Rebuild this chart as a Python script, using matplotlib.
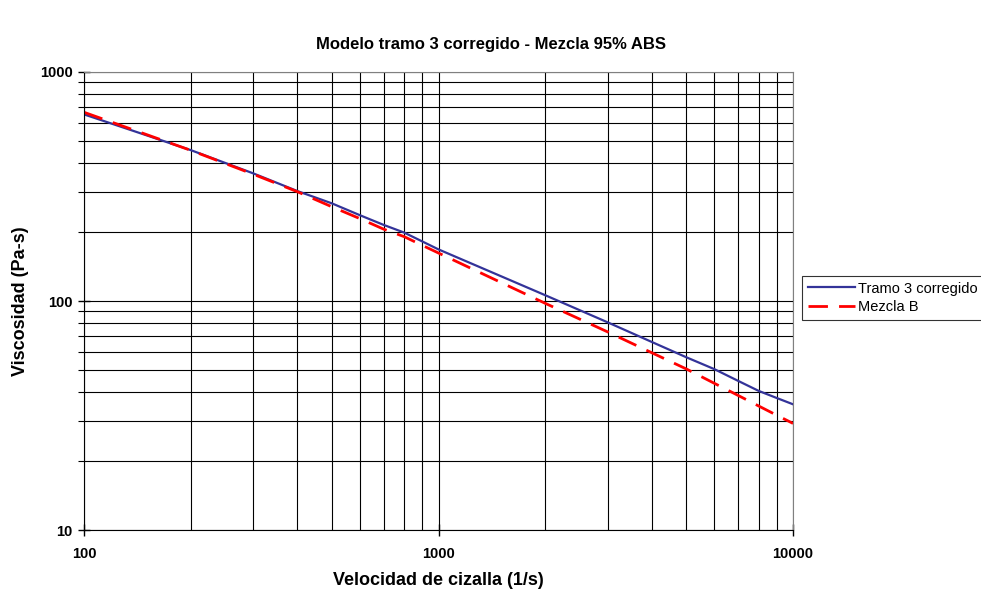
import matplotlib.pyplot as plt
from matplotlib.ticker import LogLocator, NullFormatter, FixedFormatter, FixedLocator

plt.rcParams['font.family'] = ['Liberation Sans', 'DejaVu Sans']

# shear rate (1/s)
shear_rate = [100, 200, 300, 400, 500, 600, 700, 800, 900, 1000,
              2000, 3000, 4000, 5000, 6000, 7000, 8000, 9000, 10000]
# viscosity (Pa-s), corrected section 3 model
tramo3 = [653, 456, 361, 302, 267, 237, 215, 199, 182, 168,
          106, 80.7, 66.2, 56.8, 50.4, 44.8, 40.5, 37.7, 35.4]
# viscosity (Pa-s), blend B
mezcla_b = [667, 455, 358, 300, 258, 229, 206, 191, 175, 162,
            97.7, 73.3, 59.4, 50.5, 43.7, 38.7, 34.8, 31.7, 29.2]

fig = plt.figure(figsize=(9.81, 5.93), dpi=100)
ax = fig.add_axes([0.0856, 0.1062, 0.7228, 0.7724])

ax.plot(shear_rate, tramo3, color='#333399', lw=1.6, label='Tramo 3 corregido')
ax.plot(shear_rate, mezcla_b, color='#FF0000', lw=2.0, dashes=(7, 4), label='Mezcla B')

ax.set_xscale('log')
ax.set_yscale('log')
ax.set_xlim(100, 10000)
ax.set_ylim(10, 1000)

ax.xaxis.set_major_locator(FixedLocator([100, 1000, 10000]))
ax.xaxis.set_major_formatter(FixedFormatter(['100', '1000', '10000']))
ax.xaxis.set_minor_locator(LogLocator(base=10, subs=range(2, 10)))
ax.xaxis.set_minor_formatter(NullFormatter())
ax.yaxis.set_major_locator(FixedLocator([10, 100, 1000]))
ax.yaxis.set_major_formatter(FixedFormatter(['10', '100', '1000']))
ax.yaxis.set_minor_locator(LogLocator(base=10, subs=range(2, 10)))
ax.yaxis.set_minor_formatter(NullFormatter())

ax.grid(True, which='both', color='black', lw=0.8)
ax.set_axisbelow(True)

for side in ['top', 'right']:
    ax.spines[side].set_color('#808080')
for side in ['left', 'bottom']:
    ax.spines[side].set_color('black')

ax.tick_params(axis='both', which='major', direction='inout', length=8,
               width=1, labelsize=10.5)
ax.tick_params(axis='x', which='minor', length=0)
ax.tick_params(axis='y', which='minor', direction='out', length=4, width=0.8)
ax.tick_params(axis='x', which='major', pad=8)
ax.tick_params(axis='y', which='major', pad=4)
for lbl in ax.get_xticklabels() + ax.get_yticklabels():
    lbl.set_fontweight('bold')

ax.set_xlabel('Velocidad de cizalla (1/s)', fontsize=13, fontweight='bold', labelpad=8)
ax.set_ylabel('Viscosidad (Pa-s)', fontsize=13, fontweight='bold', labelpad=8)
fig.text(0.5, 0.925, 'Modelo tramo 3 corregido - Mezcla 95% ABS',
         ha='center', va='center', fontsize=12, fontweight='bold')

leg = fig.legend(loc='upper left', bbox_to_anchor=(0.818, 0.535), fontsize=10.5,
                 frameon=True, fancybox=False, borderpad=0.4, handlelength=3.2,
                 handletextpad=0.2, labelspacing=0.3, borderaxespad=0)
leg.get_frame().set_edgecolor('black')
leg.get_frame().set_linewidth(0.8)

fig.savefig('out.png', dpi=100)
